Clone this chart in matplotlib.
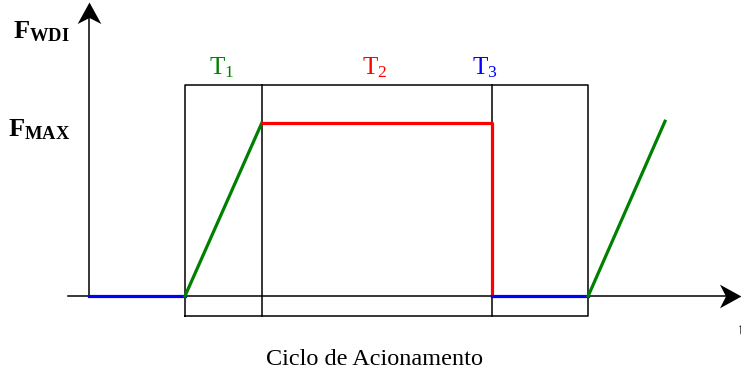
import matplotlib
matplotlib.use("Agg")
import matplotlib.pyplot as plt
from matplotlib.path import Path

plt.rcParams['font.family'] = ['Liberation Serif', 'DejaVu Serif']
plt.rcParams['mathtext.fontset'] = 'custom'
plt.rcParams['mathtext.rm'] = 'Liberation Serif'
plt.rcParams['mathtext.it'] = 'Liberation Serif:italic'
plt.rcParams['mathtext.bf'] = 'Liberation Serif:bold'

# time marks (arbitrary units): idle, T1 start, T1 end, T2 end, T3 end, next ramp top
t_idle = [0.0, 1.25]
t_ramp1 = [1.25, 2.25]
t_hold = [2.25, 5.25, 5.25]
t_idle2 = [5.25, 6.5]
t_ramp2 = [6.5, 7.5]

f_idle = [0.0, 0.0]
f_ramp1 = [0.0, 1.0]
f_hold = [1.0, 1.0, 0.0]
f_idle2 = [0.0, 0.0]
f_ramp2 = [0.0, 1.01]

# phase box
box_left, box_right = 1.25, 6.5
box_bottom, box_top = -0.116, 1.22
phase_edges = [2.25, 5.25]

phase_labels = [r'$\mathrm{T_1}$', r'$\mathrm{T_2}$', r'$\mathrm{T_3}$']
phase_label_x = [1.73, 3.72, 5.16]
phase_colors = ['green', 'red', 'blue']

# axis extents
t_axis = [-0.27, 8.49]
f_axis = [0.0, 1.70]

# concave arrow heads
head_right = Path([(0, 0), (-1, 0.55), (-0.72, 0), (-1, -0.55), (0, 0)],
                  [Path.MOVETO, Path.LINETO, Path.LINETO, Path.LINETO, Path.CLOSEPOLY])
head_up = Path([(0, 0), (-0.55, -1), (0, -0.72), (0.55, -1), (0, 0)],
               [Path.MOVETO, Path.LINETO, Path.LINETO, Path.LINETO, Path.CLOSEPOLY])

fig = plt.figure(figsize=(7.41, 3.70), dpi=100)
ax = fig.add_axes([0, 0, 1, 1])
ax.set_xlim(-89 / 76.8, (741 - 89) / 76.8)
ax.set_ylim(-74 / 173, 296 / 173)
ax.axis('off')

# box and phase dividers
ax.plot([box_left, box_right, box_right, box_left, box_left],
        [box_bottom, box_bottom, box_top, box_top, box_bottom],
        color='black', lw=1.1, zorder=2)
for x in phase_edges:
    ax.plot([x, x], [box_bottom, box_top], color='black', lw=1.1, zorder=2)

# axes with arrows
ax.plot([t_axis[0], t_axis[1] - 0.1], [0, 0], color='black', lw=1.1, zorder=2)
ax.plot([0, 0], [f_axis[0], f_axis[1] - 0.05], color='black', lw=1.1, zorder=2)
ax.plot([t_axis[1]], [0], marker=head_right, markersize=31, color='black',
        markeredgewidth=0, zorder=4)
ax.plot([0], [f_axis[1]], marker=head_up, markersize=31, color='black',
        markeredgewidth=0, zorder=4)

# signal
ax.plot(t_idle, f_idle, color='blue', lw=2.3, zorder=3)
ax.plot(t_ramp1, f_ramp1, color='green', lw=2.3, zorder=3)
ax.plot(t_hold, f_hold, color='red', lw=2.3, zorder=3)
ax.plot(t_idle2, f_idle2, color='blue', lw=2.3, zorder=3)
ax.plot(t_ramp2, f_ramp2, color='green', lw=2.3, zorder=3)

for lab, x, c in zip(phase_labels, phase_label_x, phase_colors):
    ax.text(x, 1.32, lab, color=c, fontsize=18, ha='center', va='center')

ax.text(-0.25, 1.53, r'$\mathbf{F_{WDI}}$', fontsize=19, ha='right', va='center')
ax.text(-0.25, 0.96, r'$\mathbf{F_{MAX}}$', fontsize=19, ha='right', va='center')
ax.text(3.72, -0.40, 'Ciclo de Acionamento', fontsize=17.5, ha='center', va='baseline')
# the axis label sits on the right border, partly cut off as in the original
ax.text(8.46, -0.20, 't', fontsize=14, ha='left', va='center')

fig.savefig('out.png', dpi=100)
